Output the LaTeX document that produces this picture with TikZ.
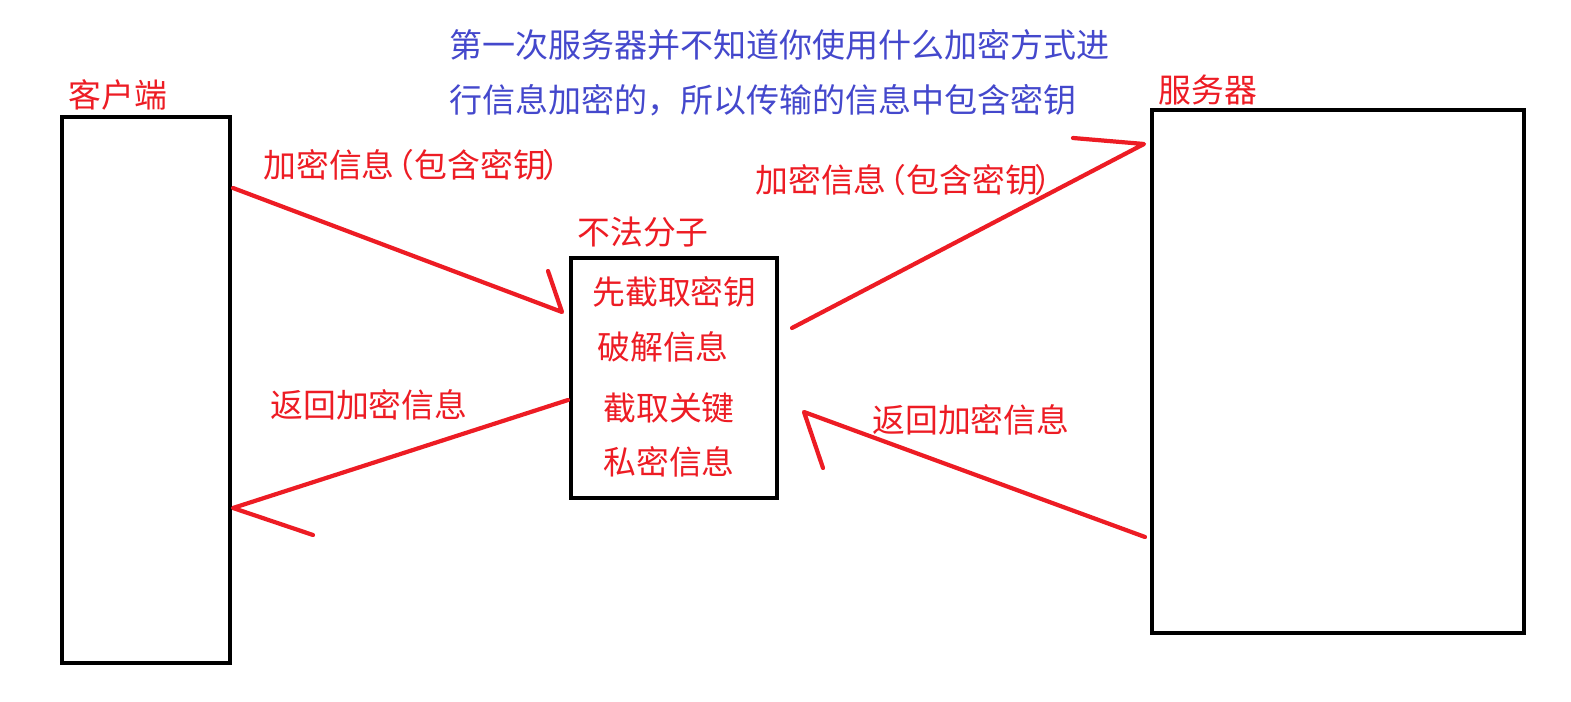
\documentclass[tikz,border=0pt]{standalone}
\usepackage{fontspec}
\newfontfamily\cjk{Noto Sans CJK SC}
\definecolor{inkred}{RGB}{237,28,36}
\definecolor{inkblue}{RGB}{68,72,204}

\tikzset{
  box/.style={draw, line width=2.3pt, inner sep=0pt},
  tag/.style={text=inkred, font=\cjk\fontsize{18.7}{23}\selectfont, inner sep=0pt, anchor=west},
  note/.style={text=inkblue, font=\cjk\fontsize{18.8}{23}\selectfont, inner sep=0pt, anchor=west},
  wire/.style={draw=inkred, line width=2.4pt, line cap=round, line join=round}
}

\begin{document}
\begin{tikzpicture}[x=0.02cm, y=-0.02cm]
    \useasboundingbox (0,0) rectangle (1571,702);

    % the three parties
    \node [box, minimum width=3.36cm, minimum height=10.92cm] (client) at (146,390) {};
    \node [box, minimum width=7.44cm, minimum height=10.46cm] (server) at (1338,371.5) {};
    \node [box, minimum width=4.12cm, minimum height=4.8cm] (thief) at (674,378) {};

    \node [tag] (clientname) at (68,95) {客户端};
    \node [tag] (servername) at (1158,90) {服务器};
    \node [tag] (thiefname) at (577,232) {不法分子};

    \node [tag] (step1) at (592,292) {先截取密钥};
    \node [tag] (step2) at (597,347) {破解信息};
    \node [tag] (step3) at (603,408) {截取关键};
    \node [tag] (step4) at (603,462) {私密信息};

    \node [note] (note1) at (449,45) {第一次服务器并不知道你使用什么加密方式进};
    \node [note] (note2) at (449,100) {行信息加密的，所以传输的信息中包含密钥};

    \node [tag] (send1) at (263,165) {加密信息\kern-.4em（包含密钥\kern-.1em）};
    \node [tag] (send2) at (755,180) {加密信息\kern-.4em（包含密钥\kern-.1em）};
    \node [tag] (back1) at (270,405) {返回加密信息};
    \node [tag] (back2) at (872,420) {返回加密信息};

    % hand drawn arrows
    \coordinate (a1) at (233,188);
    \coordinate (a1tip) at (562,312);
    \coordinate (a1barb) at (548,271);
    \coordinate (a2) at (792,328);
    \coordinate (a2tip) at (1144,144);
    \coordinate (a2barb) at (1073,138);
    \coordinate (a3) at (1145,537);
    \coordinate (a3tip) at (804,412);
    \coordinate (a3barb) at (823,468);
    \coordinate (a4) at (568,400);
    \coordinate (a4tip) at (233,508);
    \coordinate (a4barb) at (313,535);

    \draw [wire] (a1) -- (a1tip) -- (a1barb);
    \draw [wire] (a2) -- (a2tip) -- (a2barb);
    \draw [wire] (a3) -- (a3tip) -- (a3barb);
    \draw [wire] (a4) -- (a4tip) -- (a4barb);
\end{tikzpicture}
\end{document}
